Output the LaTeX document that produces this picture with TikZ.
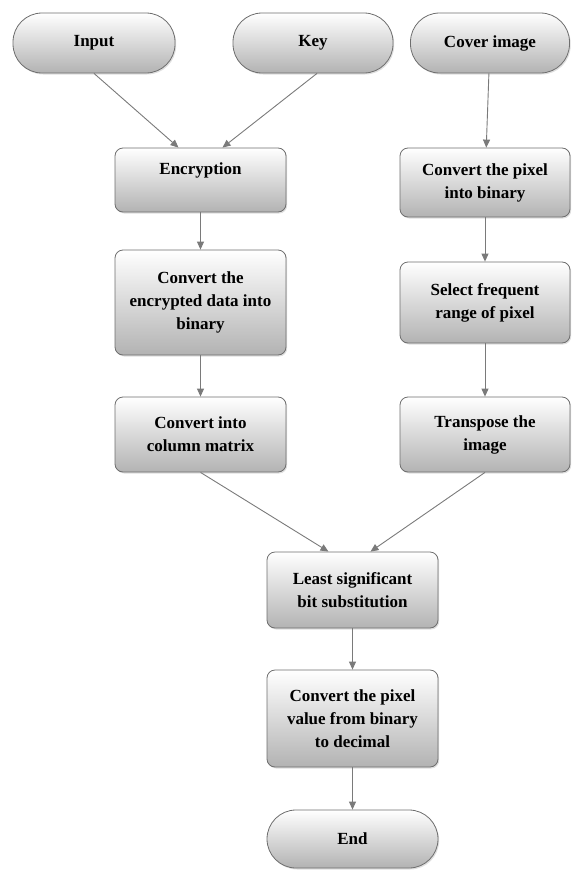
\documentclass[tikz,border=0pt]{standalone}
\usepackage{fontspec}
\setmainfont{Liberation Serif}
\usetikzlibrary{arrows.meta,shadows}
\definecolor{boxline}{HTML}{6E6E6E}
\definecolor{arrowgray}{HTML}{7A7A7A}
\tikzset{
  stepbox/.style={draw=boxline,line width=0.8pt,rounded corners=8pt,
    top color=white,bottom color=gray!60,
    drop shadow={opacity=0.25,shadow xshift=1.2pt,shadow yshift=-1.5pt},
    minimum width=171pt,align=center,inner sep=2pt,
    font=\fontsize{17}{23}\selectfont\bfseries},
  pill/.style={stepbox,rounded corners=29pt,minimum height=60pt},
  flow/.style={draw=arrowgray,line width=0.9pt,-{Triangle[length=8pt,width=7pt]}}
}
\begin{document}
\begin{tikzpicture}[x=1pt,y=-1pt]
    \useasboundingbox (0,0) rectangle (571,870);
    \node[pill,minimum width=162pt] (input) at (94,43) {Input};
    \node[pill,minimum width=160pt] (key) at (313,43) {Key};
    \node[pill,minimum width=159pt] (cover) at (490,43) {Cover image};
    \node[stepbox,minimum height=64pt] (enc) at (200.5,180) {Encryption\\\mbox{}};
    \node[stepbox,minimum height=105pt] (bin) at (200.5,302.5) {Convert the\\encrypted data into\\binary};
    \node[stepbox,minimum height=75pt] (col) at (200.5,434.5) {Convert into\\column matrix};
    \node[stepbox,minimum width=170pt,minimum height=69pt] (pix) at (485,182.5) {Convert the pixel\\into binary};
    \node[stepbox,minimum width=170pt,minimum height=81pt] (freq) at (485,302.5) {Select frequent\\range of pixel};
    \node[stepbox,minimum width=170pt,minimum height=75pt] (trans) at (485,434.5) {Transpose the\\image};
    \node[stepbox,minimum height=76pt] (lsb) at (352.5,590) {Least significant\\bit substitution};
    \node[stepbox,minimum height=97pt] (dec) at (352.5,718.5) {Convert the pixel\\value from binary\\to decimal};
    \node[pill,minimum width=171pt,minimum height=58pt] (end) at (352.5,839) {End};
    \draw[flow] (input.south) -- ([xshift=-22pt]enc.north);
    \draw[flow] ([xshift=4pt]key.south) -- ([xshift=22pt]enc.north);
    \draw[flow] (enc) -- (bin);
    \draw[flow] (bin) -- (col);
    \draw[flow] (cover) -- (pix);
    \draw[flow] (pix) -- (freq);
    \draw[flow] (freq) -- (trans);
    \draw[flow] (col.south) -- ([xshift=-24pt]lsb.north);
    \draw[flow] (trans.south) -- ([xshift=18pt]lsb.north);
    \draw[flow] (lsb) -- (dec);
    \draw[flow] (dec) -- (end);
\end{tikzpicture}
\end{document}
